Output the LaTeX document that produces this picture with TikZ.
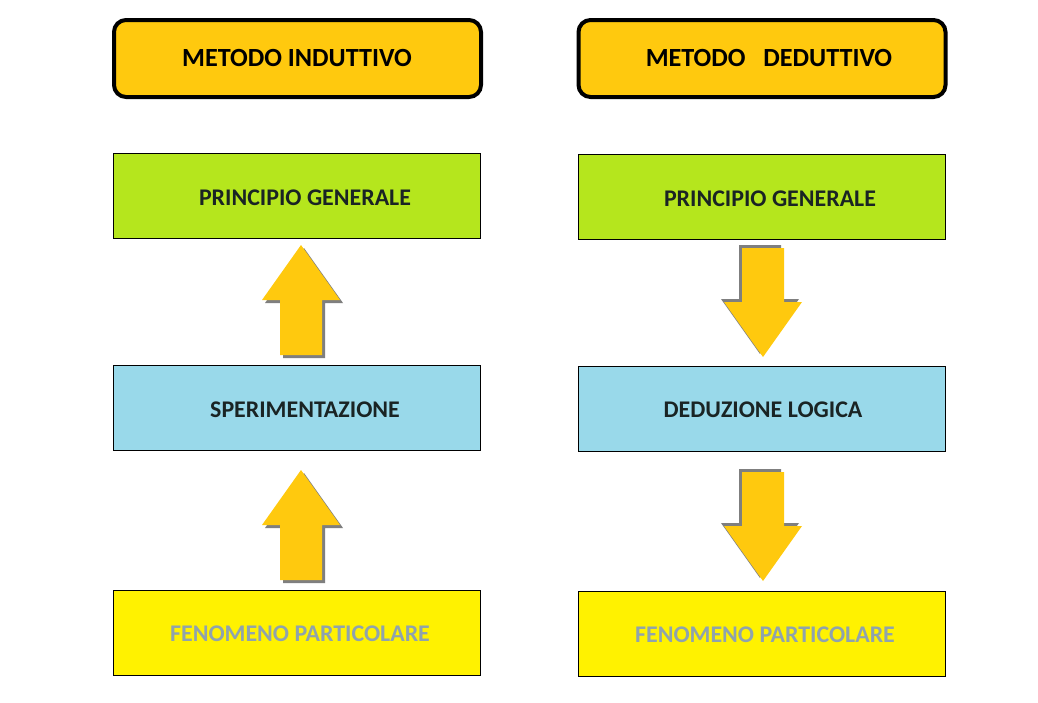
\documentclass[tikz,border=0pt]{standalone}
\usepackage{fontspec}
\setmainfont{Carlito}
\begin{document}
\begin{tikzpicture}[x=1pt,y=-1pt,
  titlebox/.style={draw=black,line width=4pt,rounded corners=12pt,fill=orangeY,minimum width=367pt,minimum height=77pt,inner sep=0pt},
  stepbox/.style={draw=black,line width=1pt,minimum width=367pt,minimum height=85pt,inner sep=0pt},
  lbl/.style={font=\bfseries\fontsize{23.9}{26}\selectfont,text=textdark},
  ttl/.style={font=\bfseries\fontsize{26.2}{30}\selectfont,text=black},
  arrowfill/.style={fill=orangeY},
  arrowshadow/.style={fill=shadowgray}]
\definecolor{orangeY}{HTML}{FFC90E}
\definecolor{greenB}{HTML}{B5E61D}
\definecolor{blueB}{HTML}{99D9EA}
\definecolor{yellowB}{HTML}{FFF200}
\definecolor{textdark}{HTML}{1A2424}
\definecolor{grayT}{HTML}{8FA3AD}
\definecolor{shadowgray}{HTML}{7F7F7F}
\useasboundingbox (0,0) rectangle (1038,702);
\fill[white] (0,0) rectangle (1038,702);
% titles
\node[titlebox] (t1) at (297.5,58.5) {};
\node[ttl] (t1l) at (297,58) {METODO INDUTTIVO};
\node[titlebox] (t2) at (762,58.5) {};
\node[ttl] (t2l) at (769,58) {METODO\hspace{0.45em} DEDUTTIVO};
% left column
\node[stepbox,fill=greenB] (lg) at (296.5,195.5) {};
\node[lbl] (lgl) at (305,198) {PRINCIPIO GENERALE};
\node[stepbox,fill=blueB] (lb) at (296.5,407.5) {};
\node[lbl] (lbl) at (305,410) {SPERIMENTAZIONE};
\node[stepbox,fill=yellowB] (ly) at (296.5,632.5) {};
\node[lbl,text=grayT] (lyl) at (300,634) {FENOMENO PARTICOLARE};
% right column
\node[stepbox,fill=greenB] (rg) at (761.5,196.5) {};
\node[lbl] (rgl) at (770,199) {PRINCIPIO GENERALE};
\node[stepbox,fill=blueB] (rb) at (761.5,408.5) {};
\node[lbl] (rbl) at (763,410) {DEDUZIONE LOGICA};
\node[stepbox,fill=yellowB] (ry) at (761.5,633.5) {};
\node[lbl,text=grayT] (ryl) at (765,635) {FENOMENO PARTICOLARE};
% up arrows (left)
\foreach \dy in {0,225}{
  \begin{scope}[yshift=-\dy pt]
  \fill[arrowshadow] (304,248) -- (343,303) -- (325,303) -- (325,358) -- (283,358) -- (283,303) -- (265,303) -- cycle;
  \fill[arrowfill] (301,245) -- (340,300) -- (322,300) -- (322,355) -- (280,355) -- (280,300) -- (262,300) -- cycle;
  \end{scope}
}
% down arrows (right)
\foreach \dy in {0,224}{
  \begin{scope}[yshift=-\dy pt]
  \fill[arrowshadow] (739,245) -- (781,245) -- (781,299) -- (799,299) -- (760,354) -- (721,299) -- (739,299) -- cycle;
  \fill[arrowfill] (742,248) -- (784,248) -- (784,302) -- (802,302) -- (763,357) -- (724,302) -- (742,302) -- cycle;
  \end{scope}
}
\end{tikzpicture}
\end{document}
